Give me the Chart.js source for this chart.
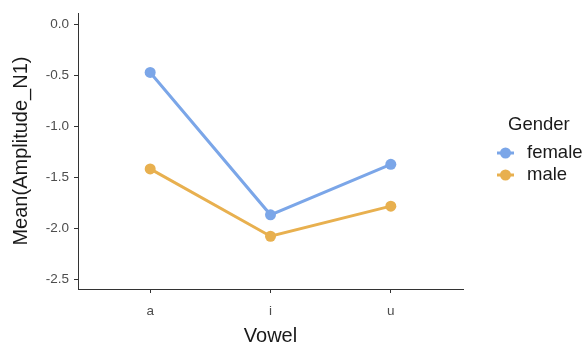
<!DOCTYPE html>
<html>
<head>
<meta charset="utf-8">
<script src="https://cdn.jsdelivr.net/npm/chart.js@4/dist/chart.umd.min.js"></script>
<style>
  html, body { margin: 0; padding: 0; background: #fff; }
  #wrap { width: 585px; height: 347px; }
</style>
</head>
<body>
<div id="wrap"><canvas id="chart" width="585" height="347"></canvas></div>
<script>
// Vowel categories on the x axis
const vowels = ["a", "i", "u"]
// Mean(Amplitude_N1) per vowel
const female = [-0.475, -1.87, -1.375]
const male = [-1.42, -2.08, -1.785]
const yTicks = [0.0, -0.5, -1.0, -1.5, -2.0, -2.5]

const femaleColor = "#7ba6e8"
const maleColor = "#e8b04f"
const axisColor = "#333333"
const font = "'Liberation Sans', Arial, sans-serif"

// turn a series into {x, y} points on the 1..n positions
const toPoints = (vals) => vals.map((v, i) => ({ x: i + 1, y: v }))

// draws the ggplot-style legend on the right
const sideLegend = {
  id: "sideLegend",
  afterDraw(chart) {
    const ctx = chart.ctx
    ctx.save()
    ctx.fillStyle = "#1a1a1a"
    ctx.font = "18.5px " + font
    ctx.textBaseline = "middle"
    ctx.textAlign = "left"
    ctx.fillText("Gender", 508, 125)

    chart.data.datasets.forEach((ds, i) => {
      const y = 153 + i * 22
      ctx.strokeStyle = ds.borderColor
      ctx.lineWidth = 3
      ctx.beginPath()
      ctx.moveTo(497, y)
      ctx.lineTo(514, y)
      ctx.stroke()
      ctx.fillStyle = ds.borderColor
      ctx.beginPath()
      ctx.arc(505.5, y, 5.5, 0, Math.PI * 2)
      ctx.fill()
      ctx.fillStyle = "#1a1a1a"
      ctx.font = "18.5px " + font
      ctx.fillText(ds.label, 527, y)
    })
    ctx.restore()
  }
}

new Chart(document.getElementById("chart"), {
  type: "line",
  data: {
    datasets: [
      {
        label: "female",
        data: toPoints(female),
        borderColor: femaleColor,
        backgroundColor: femaleColor,
        borderWidth: 3,
        pointRadius: 5.5,
        pointBorderWidth: 0,
        tension: 0
      },
      {
        label: "male",
        data: toPoints(male),
        borderColor: maleColor,
        backgroundColor: maleColor,
        borderWidth: 3,
        pointRadius: 5.5,
        pointBorderWidth: 0,
        tension: 0
      }
    ]
  },
  options: {
    responsive: false,
    animation: false,
    layout: {
      padding: { top: 10, right: 122, left: 0, bottom: 0 }
    },
    plugins: {
      legend: { display: false },
      tooltip: { enabled: false }
    },
    scales: {
      x: {
        type: "linear",
        min: 0.4,
        max: 3.6,
        afterBuildTicks: (scale) => {
          scale.ticks = vowels.map((_, i) => ({ value: i + 1 }))
        },
        afterFit: (scale) => { scale.height = 58 },
        ticks: {
          color: "#4d4d4d",
          padding: 10,
          font: { family: font, size: 13.5 },
          callback: (value) => vowels[value - 1]
        },
        grid: {
          drawOnChartArea: false,
          tickLength: 4,
          tickColor: axisColor,
          tickWidth: 1
        },
        border: { color: axisColor, width: 1 },
        title: {
          display: true,
          text: "Vowel",
          color: "#1a1a1a",
          font: { family: font, size: 20 },
          padding: { top: 0, bottom: -1 }
        }
      },
      y: {
        min: -2.597,
        max: 0.107,
        afterBuildTicks: (scale) => {
          scale.ticks = yTicks.map(v => ({ value: v }))
        },
        afterFit: (scale) => { scale.width = 78 },
        ticks: {
          color: "#4d4d4d",
          padding: 5,
          font: { family: font, size: 13.5 },
          callback: (value) => value.toFixed(1)
        },
        grid: {
          drawOnChartArea: false,
          tickLength: 4,
          tickColor: axisColor,
          tickWidth: 1
        },
        border: { color: axisColor, width: 1 },
        title: {
          display: true,
          text: "Mean(Amplitude_N1)",
          color: "#1a1a1a",
          font: { family: font, size: 20 },
          padding: { top: 9, bottom: 0 }
        }
      }
    }
  },
  plugins: [sideLegend]
})
</script>
</body>
</html>
